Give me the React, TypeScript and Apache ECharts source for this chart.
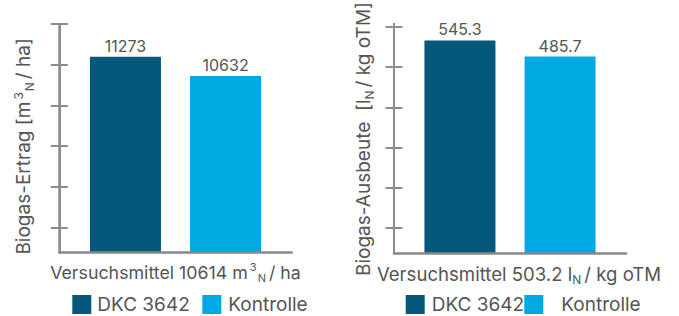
import React, { useEffect, useRef } from "react";
import * as echarts from "echarts";

// ---- data ----
const seriesNames = ["DKC 3642", "Kontrolle"];
const ertragValues = [11273, 10632];
const ausbeuteValues = [545.3, 485.7];
const ertragCategory = ["Versuchsmittel 10614"];
const ausbeuteCategory = ["Versuchsmittel 503.2"];
// axis scales (no tick labels are shown in the reference)
const ertragMin = 4765;
const ertragMax = 12360;
const ertragTicks = [5610, 6960, 8310, 9660, 11010, 12360];
const ausbeuteMin = -242.3;
const ausbeuteMax = 596;
const ausbeuteTicks = [-149, 0, 149, 298, 447, 596];

// ---- layout / style ----
const G0 = { left: 59.3, top: 24, width: 232.4, height: 228.7 };
const G1 = { left: 394, top: 24, width: 232, height: 229.3 };
const colors = ["#04587A", "#00A9E2"];
const FONT = "Inter";
const TEXT = "#555555";
const AXIS = "#8c8c8c";

function makeRich(size: number) {
  const small = Math.round(size * 0.62);
  return {
    t: { fontSize: size, color: TEXT, fontFamily: FONT },
    sup: { fontSize: small, color: TEXT, fontFamily: FONT, padding: [0, 1, Math.round(size * 0.6), 2] },
    sub: { fontSize: small, color: TEXT, fontFamily: FONT, padding: [Math.round(size * 0.6), 3, 0, 0] },
  };
}

function yAxes(gridIndex: number, min: number, max: number, ticks: number[], name: string, nameGap: number, namePad: number[], useStart: boolean) {
  const base: any = {
    type: "value",
    gridIndex,
    position: "left",
    offset: 0,
    min,
    max,
    splitLine: { show: false },
    axisLabel: { show: false },
  };
  if (useStart) base.startValue = min;
  return [
    {
      ...base,
      name,
      nameLocation: "middle",
      nameRotate: 90,
      nameGap,
      nameTextStyle: { color: TEXT, fontSize: 19, fontFamily: FONT, rich: makeRich(19), padding: namePad },
      axisLine: { show: true, onZero: false, lineStyle: { color: AXIS, width: 2 } },
      axisTick: { show: true, length: 8.5, inside: false, customValues: ticks, lineStyle: { color: AXIS, width: 2 } },
    },
    {
      ...base,
      axisLine: { show: false, onZero: false },
      axisTick: { show: true, length: 8.5, inside: true, customValues: ticks, lineStyle: { color: AXIS, width: 2 } },
    },
  ];
}

function xAxis(gridIndex: number, data: string[], unit: string, size: number, pad: number[]) {
  return {
    type: "category",
    gridIndex,
    data,
    z: 5,
    axisLine: { show: true, onZero: false, lineStyle: { color: "#888888", width: 2.5 } },
    axisTick: { show: false },
    axisLabel: {
      margin: 9,
      padding: pad,
      formatter: (v: string) => "{t|" + v + " }" + unit,
      rich: makeRich(size),
    },
  };
}

function barSeries(name: string, color: string, value: number, xi: number, yi: number) {
  return {
    type: "bar",
    name,
    xAxisIndex: xi,
    yAxisIndex: yi,
    data: [value],
    barWidth: 71,
    barGap: "41%",
    clip: true,
    itemStyle: { color },
    label: {
      show: true,
      position: "top",
      distance: 3,
      color: TEXT,
      fontSize: 16,
      fontFamily: FONT,
    },
  };
}

function legendItem(name: string, left: number, textPad: number) {
  return {
    orient: "horizontal",
    icon: "rect",
    itemWidth: 19,
    itemHeight: 19,
    left: left - 5,
    top: 290,
    data: [name],
    textStyle: { color: TEXT, fontSize: 19, fontFamily: FONT, padding: [0, 0, 0, textPad] },
  };
}

function axisLineGraphic(g: { left: number; top: number; height: number }) {
  return {
    type: "line",
    z: 10,
    shape: { x1: g.left, y1: g.top - 1, x2: g.left, y2: g.top + g.height },
    style: { stroke: AXIS, lineWidth: 2 },
  };
}

export default function App() {
  const ref = useRef<HTMLDivElement>(null);
  useEffect(() => {
    if (!ref.current) return;
    const chart = echarts.init(ref.current, null, { renderer: "svg" });
    chart.setOption({
      animation: false,
      textStyle: { fontFamily: FONT },
      grid: [G0, G1],
      legend: [
        legendItem(seriesNames[0], 72.3, 1),
        legendItem(seriesNames[1], 202.3, 2),
        legendItem(seriesNames[0], 405.7, 2),
        legendItem(seriesNames[1], 524.3, 13),
      ],
      xAxis: [
        xAxis(0, ertragCategory, "{t|m}{sup|3}{sub|N}{t|/ ha}", 17.8, [0, 0, 0, 0]),
        xAxis(1, ausbeuteCategory, "{t|l}{sub|N}{t|/ kg oTM}", 18.6, [0, 0, 0, 18]),
      ],
      yAxis: [
        ...yAxes(0, ertragMin, ertragMax, ertragTicks, "{t|Biogas-Ertrag [m}{sup|3}{sub|N}{t|/ ha]}", 24, [0, 16, 0, 0], false),
        ...yAxes(1, ausbeuteMin, ausbeuteMax, ausbeuteTicks, "{t|Biogas-Ausbeute  [l}{sub|N}{t|/ kg oTM]}", 19, [0, 0, 0, 2], true),
      ],
      graphic: [axisLineGraphic(G0), axisLineGraphic(G1)],
      series: [
        barSeries(seriesNames[0], colors[0], ertragValues[0], 0, 0),
        barSeries(seriesNames[1], colors[1], ertragValues[1], 0, 0),
        barSeries(seriesNames[0], colors[0], ausbeuteValues[0], 1, 2),
        barSeries(seriesNames[1], colors[1], ausbeuteValues[1], 1, 2),
      ],
    });
    return () => chart.dispose();
  }, []);
  return (
    <div
      ref={ref}
      style={{ position: "fixed", left: 0, top: 0, width: 679, height: 316, background: "#fff" }}
    />
  );
}
